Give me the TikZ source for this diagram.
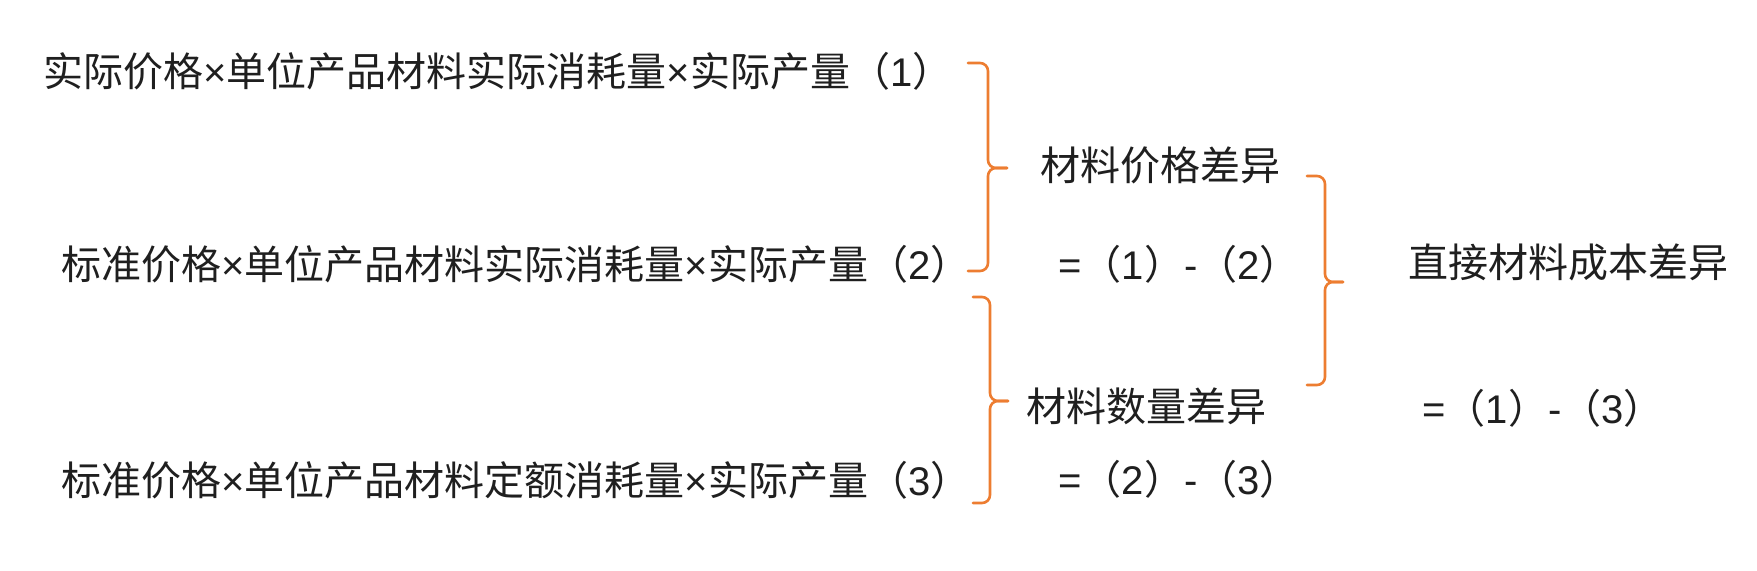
\documentclass[tikz,border=0pt]{standalone}
\usepackage{fontspec}
\setmainfont{Noto Sans CJK SC}
\newfontfamily\lat{Liberation Sans}
\newcommand\X{{\lat ×}}
\newcommand\Lt[1]{{\lat #1}}
\begin{document}
\begin{tikzpicture}[x=0.5pt,y=-0.5pt,
  txt/.style={inner sep=0pt,anchor=base west,font=\fontsize{20pt}{24pt}\selectfont,text=black!88},
  bracel/.style={draw=braceorange,line width=1.3pt,rounded corners=4pt,line cap=round}]
\definecolor{braceorange}{RGB}{237,125,49}
\useasboundingbox[fill=white] (0,0) rectangle (1757,570);
% left column
\node[txt] (r1) at (43,86) {实际价格\X 单位产品材料实际消耗量\X 实际产量（\Lt{1}）};
\node[txt] (r2) at (61,279) {标准价格\X 单位产品材料实际消耗量\X 实际产量（\Lt{2}）};
\node[txt] (r3) at (61,495) {标准价格\X 单位产品材料定额消耗量\X 实际产量（\Lt{3}）};
% middle column
\node[txt] (pv) at (1040,180) {材料价格差异};
\node[txt] (pvf) at (1058,279) {\Lt{=}（\Lt{1}）\Lt{-}（\Lt{2}）};
\node[txt] (qv) at (1026,421) {材料数量差异};
\node[txt] (qvf) at (1058,494) {\Lt{=}（\Lt{2}）\Lt{-}（\Lt{3}）};
% right column
\node[txt] (tv) at (1408,277) {直接材料成本差异};
\node[txt] (tvf) at (1422,423) {\Lt{=}（\Lt{1}）\Lt{-}（\Lt{3}）};
% braces
\coordinate (b1t) at (968,63); \coordinate (b1m) at (988,168); \coordinate (b1tip) at (1007,168); \coordinate (b1b) at (968,271);
\draw[bracel] (b1t) -| (b1m) -- (b1tip);
\draw[bracel] (b1b) -| (b1m) -- (b1tip);
\coordinate (b2t) at (973,297); \coordinate (b2m) at (990,401); \coordinate (b2tip) at (1008,401); \coordinate (b2b) at (973,503);
\draw[bracel] (b2t) -| (b2m) -- (b2tip);
\draw[bracel] (b2b) -| (b2m) -- (b2tip);
\coordinate (b3t) at (1307,176); \coordinate (b3m) at (1325,282); \coordinate (b3tip) at (1343,282); \coordinate (b3b) at (1307,385);
\draw[bracel] (b3t) -| (b3m) -- (b3tip);
\draw[bracel] (b3b) -| (b3m) -- (b3tip);
\end{tikzpicture}
\end{document}
